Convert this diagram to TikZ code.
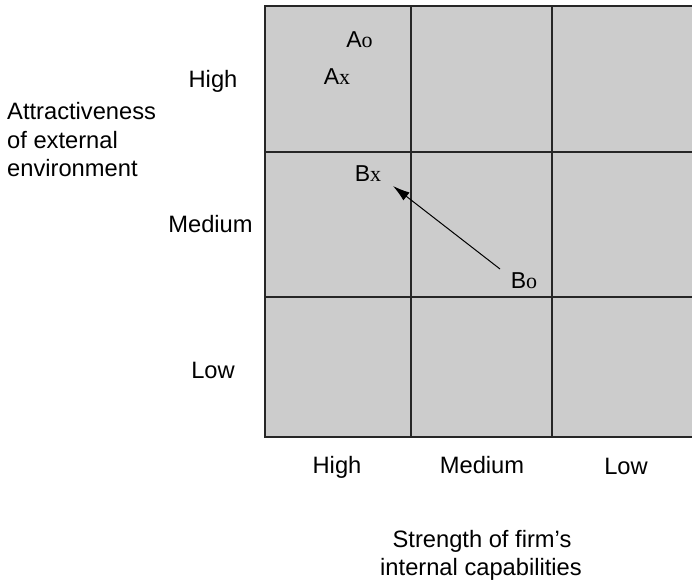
\documentclass[tikz,border=0pt]{standalone}
\usepackage{fontspec}
\setmainfont{Liberation Sans}
\newfontfamily\serifsub{Liberation Serif}
\usetikzlibrary{arrows.meta}
\begin{document}
\begin{tikzpicture}[x=1pt,y=-1pt,
  lbl/.style={inner sep=0pt,anchor=base,font=\fontsize{23.7}{28}\selectfont},
  grid line/.style={draw=black!85,line width=1.4pt},
  cell/.style={fill=black!20},
  mark lbl/.style={inner sep=0pt,anchor=base,font=\fontsize{23}{28}\selectfont}]
\useasboundingbox (0,0) rectangle (692,585);
% grid
\fill[cell] (265,6) rectangle (692,437);
\draw[grid line] (692,6) -- (265,6) -- (265,437) -- (692,437);
\draw[grid line] (411,6) -- (411,437);
\draw[grid line] (552,6) -- (552,437);
\draw[grid line] (265,152) -- (692,152);
\draw[grid line] (265,297) -- (692,297);
% point labels
\node[mark lbl] (Ao) at (359.5,48) {A{\serifsub\fontsize{22}{26}\selectfont o}};
\node[mark lbl] (Ax) at (337,85) {A{\serifsub\fontsize{22}{26}\selectfont x}};
\node[mark lbl] (Bx) at (368,182) {B{\serifsub\fontsize{22}{26}\selectfont x}};
\node[mark lbl] (Bo) at (524,288) {B{\serifsub\fontsize{22}{26}\selectfont o}};
\coordinate (arrS) at (500,269);
\coordinate (arrE) at (393,186);
\draw[line width=1pt,-{Latex[length=17pt,width=10pt]}] (arrS) -- (arrE);
% row labels
\node[lbl] (rHigh) at (213,88) {High};
\node[lbl] (rMed) at (210.5,232) {Medium};
\node[lbl] (rLow) at (213,378) {Low};
% column labels
\node[lbl] (cHigh) at (337,473) {High};
\node[lbl] (cMed) at (482,473) {Medium};
\node[lbl] (cLow) at (626,474) {Low};
% axis titles
\node[lbl,anchor=base west] (yt1) at (7,120) {Attractiveness};
\node[lbl,anchor=base west] (yt2) at (7,149) {of external};
\node[lbl,anchor=base west] (yt3) at (7,177) {environment};
\node[lbl] (xt1) at (482,547) {Strength of firm’s};
\node[lbl] (xt2) at (481,575) {internal capabilities};
\end{tikzpicture}
\end{document}
